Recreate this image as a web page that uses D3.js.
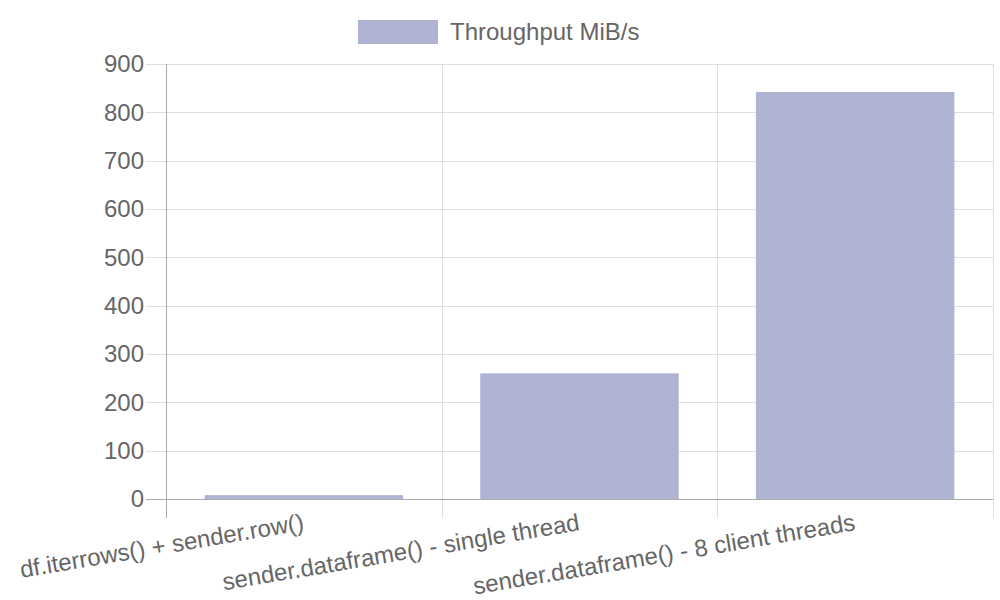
<!DOCTYPE html>
<meta charset="utf-8">
<style>
body { margin: 0; background: #fff; }
svg { font-family: "Liberation Sans", Arial, sans-serif; }
.grid line { stroke: #e0e0e0; stroke-width: 1; }
.axis text { fill: #666; font-size: 24px; }
</style>
<svg width="1000" height="600"></svg>
<script src="https://d3js.org/d3.v7.min.js"></script>
<script>
var categories = ["df.iterrows() + sender.row()", "sender.dataframe() - single thread", "sender.dataframe() - 8 client threads"];
var values = [8, 260, 842];
var yTicks = [0, 100, 200, 300, 400, 500, 600, 700, 800, 900];
var seriesName = "Throughput MiB/s";

var svg = d3.select("svg"),
    plotLeft = 166, plotRight = 993, plotTop = 64, plotBottom = 499;
var color = "rgba(176,180,212,1)";

var x = d3.scaleBand().domain(categories).range([plotLeft, plotRight]).paddingInner(0).paddingOuter(0);
var y = d3.scaleLinear().domain([0, 900]).range([plotBottom, plotTop]);

// horizontal grid
var g = svg.append("g").attr("class", "grid");
g.selectAll("line.h").data(yTicks).enter().append("line")
    .attr("x1", plotLeft - 20).attr("x2", plotRight)
    .attr("y1", d => Math.round(y(d)) + 0.5).attr("y2", d => Math.round(y(d)) + 0.5);
// vertical grid
var vx = categories.map(c => x(c)).concat([plotRight]);
g.selectAll("line.v").data(vx).enter().append("line")
    .attr("x1", d => Math.round(d) + 0.5).attr("x2", d => Math.round(d) + 0.5)
    .attr("y1", plotTop).attr("y2", plotBottom + 19);

// bars
var bw = x.bandwidth() * 0.72;
svg.append("g").selectAll("rect").data(values).enter().append("rect")
    .attr("x", (d, i) => x(categories[i]) + (x.bandwidth() - bw) / 2)
    .attr("width", bw)
    .attr("y", d => y(d))
    .attr("height", d => y(0) - y(d))
    .attr("fill", color);

// axes lines
svg.append("line").attr("x1", plotLeft + 0.5).attr("x2", plotLeft + 0.5).attr("y1", plotTop).attr("y2", plotBottom + 19)
    .attr("stroke", "#aaa");
svg.append("line").attr("x1", plotLeft - 20).attr("x2", plotRight).attr("y1", plotBottom + 0.5).attr("y2", plotBottom + 0.5)
    .attr("stroke", "#aaa");

// y labels
var ya = svg.append("g").attr("class", "axis");
ya.selectAll("text").data(yTicks).enter().append("text")
    .attr("x", plotLeft - 22)
    .attr("y", d => y(d))
    .attr("dy", "0.35em")
    .attr("text-anchor", "end")
    .text(d => d);

// x labels, rotated, right end hanging at the tick
var xa = svg.append("g").attr("class", "axis");
xa.selectAll("text").data(categories).enter().append("text")
    .attr("transform", d => "translate(" + (x(d) + x.bandwidth() / 2 + 1) + "," + (plotBottom + 31) + ") rotate(-9.6)")
    .attr("text-anchor", "end")
    .text(d => d);

// legend
var lg = svg.append("g");
lg.append("rect").attr("x", 358).attr("y", 20).attr("width", 80).attr("height", 24).attr("fill", color);
lg.append("text").attr("x", 450).attr("y", 32).attr("dy", "0.35em")
    .attr("fill", "#666").style("font-size", "24px").text(seriesName);
</script>
